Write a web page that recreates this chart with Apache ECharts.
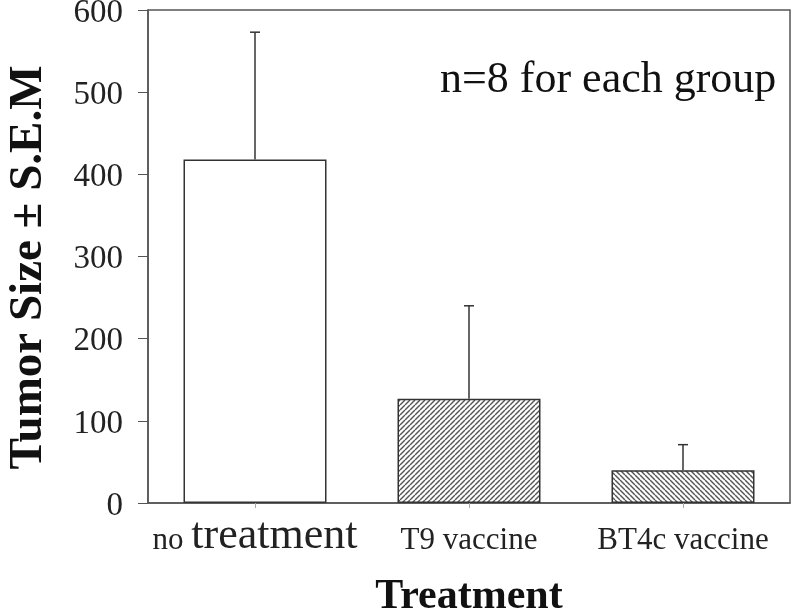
<!DOCTYPE html>
<html>
<head>
<meta charset="utf-8">
<script src="https://cdn.jsdelivr.net/npm/echarts@6/dist/echarts.min.js"></script>
<style>html,body{margin:0;padding:0;background:#fff}#c{width:800px;height:616px}</style>
</head>
<body>
<div id="c"></div>
<script>
const categories = ['no treatment', 'T9 vaccine', 'BT4c vaccine'];
const tumorSize = [418, 127, 40];
const sem = [155, 113, 31];
const yTicks = [0, 100, 200, 300, 400, 500, 600];
const annotation = 'n=8 for each group';

function hatch(dir) {
  const s = 5;
  const c = document.createElement('canvas');
  c.width = s; c.height = s;
  const g = c.getContext('2d');
  g.fillStyle = '#fff';
  g.fillRect(0, 0, s, s);
  g.strokeStyle = '#555';
  g.lineWidth = 1.4;
  for (let k = -1; k <= 1; k++) {
    g.beginPath();
    if (dir === '/') { g.moveTo(k * s, s); g.lineTo(k * s + s, 0); }
    else { g.moveTo(k * s, 0); g.lineTo(k * s + s, s); }
    g.stroke();
  }
  return { image: c, repeat: 'repeat' };
}
const fills = ['#ffffff', hatch('/'), hatch('\\')];

const serif = 'Liberation Serif';
const chart = echarts.init(document.getElementById('c'), null, { renderer: 'canvas' });
chart.setOption({
  animation: false,
  backgroundColor: '#fff',
  grid: { left: 148, right: 10, top: 10, bottom: 113, containLabel: false, outerBoundsMode: 'none', show: true, borderColor: '#555', borderWidth: 1.5, backgroundColor: 'transparent' },
  xAxis: {
    type: 'category',
    data: categories,
    name: 'Treatment',
    nameLocation: 'middle',
    nameGap: 73,
    nameTextStyle: { fontFamily: serif, fontWeight: 'bold', fontSize: 42, color: '#111' },
    axisLine: { lineStyle: { color: '#555', width: 1.5 } },
    axisTick: { show: true, alignWithLabel: true, length: 5, lineStyle: { color: '#aaa' } },
    axisLabel: {
      interval: 0,
      hideOverlap: false,
      margin: 9,
      fontFamily: serif,
      fontSize: 31,
      color: '#222',
      formatter: function (v) {
        if (v === 'no treatment') return '{s|no }{b|treatment}';
        return '{s|' + v + '}';
      },
      rich: {
        s: { fontFamily: serif, fontSize: 31, color: '#222', verticalAlign: 'bottom', lineHeight: 44 },
        b: { fontFamily: serif, fontSize: 44, color: '#222', verticalAlign: 'bottom', lineHeight: 44, padding: [0, 0, -2, 0] }
      }
    }
  },
  yAxis: {
    type: 'value',
    min: 0, max: 600, interval: 100,
    name: 'Tumor Size ± S.E.M',
    nameLocation: 'middle',
    nameGap: 96,
    nameTextStyle: { fontFamily: serif, fontWeight: 'bold', fontSize: 47, color: '#111', padding: [0, 22, 0, 0] },
    axisLine: { show: true, lineStyle: { color: '#555', width: 1.5 } },
    axisTick: { show: true, inside: false, length: 10, lineStyle: { color: '#555' } },
    splitLine: { show: false },
    axisLabel: {
      margin: 25,
      fontFamily: serif, fontSize: 33, color: '#222',
      verticalAlign: 'top',
      lineHeight: 6,
      formatter: function (v) { return yTicks.indexOf(v) >= 0 ? String(v) : ''; }
    }
  },
  series: [
    {
      type: 'bar',
      barWidth: 143,
      data: tumorSize.map((v, i) => ({ value: v, itemStyle: { color: fills[i] } })),
      itemStyle: { borderColor: '#333', borderWidth: 1.5 },
      z: 2
    },
    {
      type: 'custom',
      z: 3,
      data: tumorSize.map((v, i) => [i, v, v + sem[i]]),
      renderItem: function (params, api) {
        const base = api.coord([api.value(0), api.value(1)]);
        const top = api.coord([api.value(0), api.value(2)]);
        const hw = 5;
        return {
          type: 'group',
          children: [
            { type: 'line', shape: { x1: base[0], y1: base[1], x2: top[0], y2: top[1] }, style: { stroke: '#333', lineWidth: 1.5 } },
            { type: 'line', shape: { x1: top[0] - hw, y1: top[1], x2: top[0] + hw, y2: top[1] }, style: { stroke: '#333', lineWidth: 1.5 } }
          ]
        };
      }
    }
  ],
  graphic: [
    { type: 'text', left: 440, top: 58, style: { text: annotation, fontFamily: serif, fontSize: 44, fill: '#111' } }
  ]
});
</script>
</body>
</html>
